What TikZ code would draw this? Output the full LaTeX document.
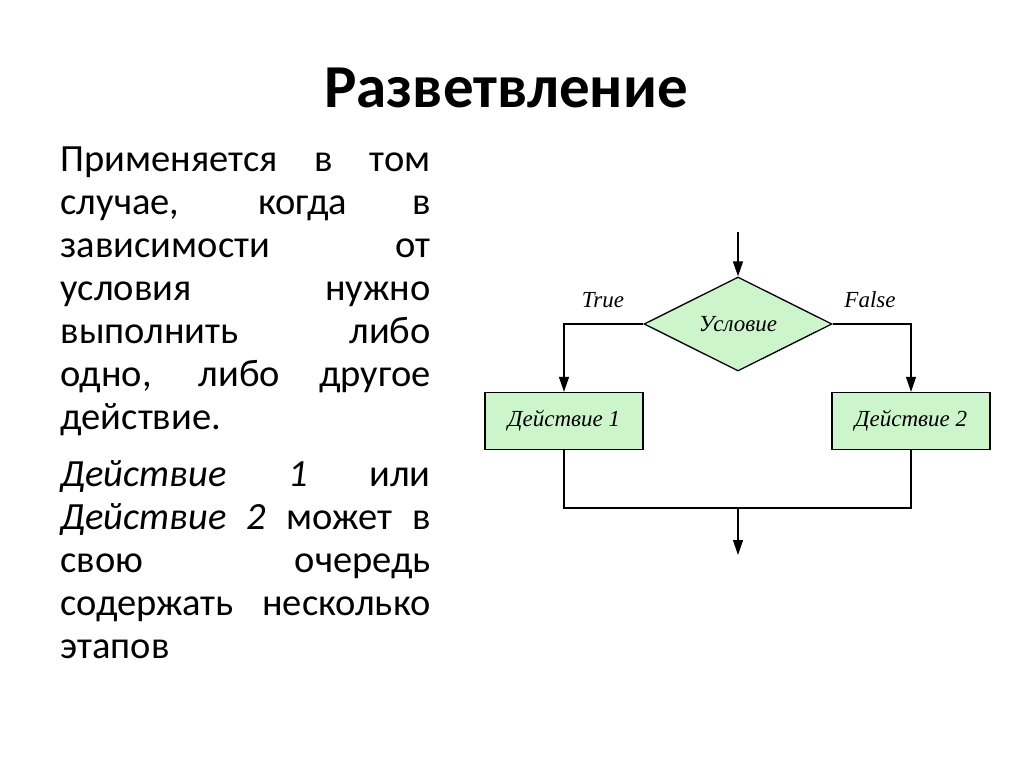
\documentclass[tikz,border=0pt]{standalone}
\usepackage{fontspec}
\setmainfont{Carlito}
\newfontfamily\chartfont{Liberation Serif}
\usetikzlibrary{arrows.meta,shapes.geometric}
\definecolor{boxgreen}{RGB}{204,245,204}
\newcommand{\jline}[1]{{\spaceskip=0.25em plus 1fil\makebox[370pt][s]{#1}}}
\begin{document}
\begin{tikzpicture}[x=1pt,y=-1pt,
  cond/.style = {draw, diamond, aspect=2, inner sep=0pt, fill=boxgreen,
    minimum width=188pt, minimum height=94pt, line width=1.3pt,
    font=\chartfont\itshape\fontsize{23}{26}\selectfont},
  act/.style = {draw, rectangle, fill=boxgreen, minimum width=158pt,
    minimum height=57pt, line width=1.3pt,
    font=\chartfont\itshape\fontsize{23}{26}\selectfont},
  lbl/.style = {font=\chartfont\itshape\fontsize{23}{26}\selectfont},
  arr/.style = {-{Triangle[width=10pt,length=15pt]}},
  line width=1.3pt]
  \useasboundingbox (0,0) rectangle (1024,767);

  % title and text
  \node[anchor=base, font=\bfseries\fontsize{61}{66}\selectfont] (title) at (506,108) {Разветвление};
  \node[anchor=north west, inner sep=0pt, text width=370pt, align=left,
    font=\fontsize{38.5}{43}\selectfont] (text) at (60,146) {%
    \jline{Применяется в том}\\
    \jline{случае, когда в}\\
    \jline{зависимости от}\\
    \jline{условия нужно}\\
    \jline{выполнить либо}\\
    \jline{одно, либо другое}\\
    действие.\\[14pt]
    \jline{\textit{Действие 1} или}\\
    \jline{\textit{Действие 2} может в}\\
    \jline{свою очередь}\\
    \jline{содержать несколько}\\
    этапов};

  % flowchart
  \coordinate (start) at (738,232);
  \node[cond] (cond) at (738,324) {Условие};
  \node[act] (act1) at (564,421) {Действие 1};
  \node[act] (act2) at (911,421) {Действие 2};
  \coordinate (join) at (738,508);
  \coordinate (stop) at (738,555);
  \node[lbl] (true) at (603,300) {True};
  \node[lbl] (false) at (870,300) {False};

  \draw[arr] (start) -- (cond);
  \draw[arr] (cond.west) -| (act1);
  \draw[arr] (cond.east) -| (act2);
  \draw (act1) |- (join) -| (act2);
  \draw[arr] (join) -- (stop);
\end{tikzpicture}
\end{document}
